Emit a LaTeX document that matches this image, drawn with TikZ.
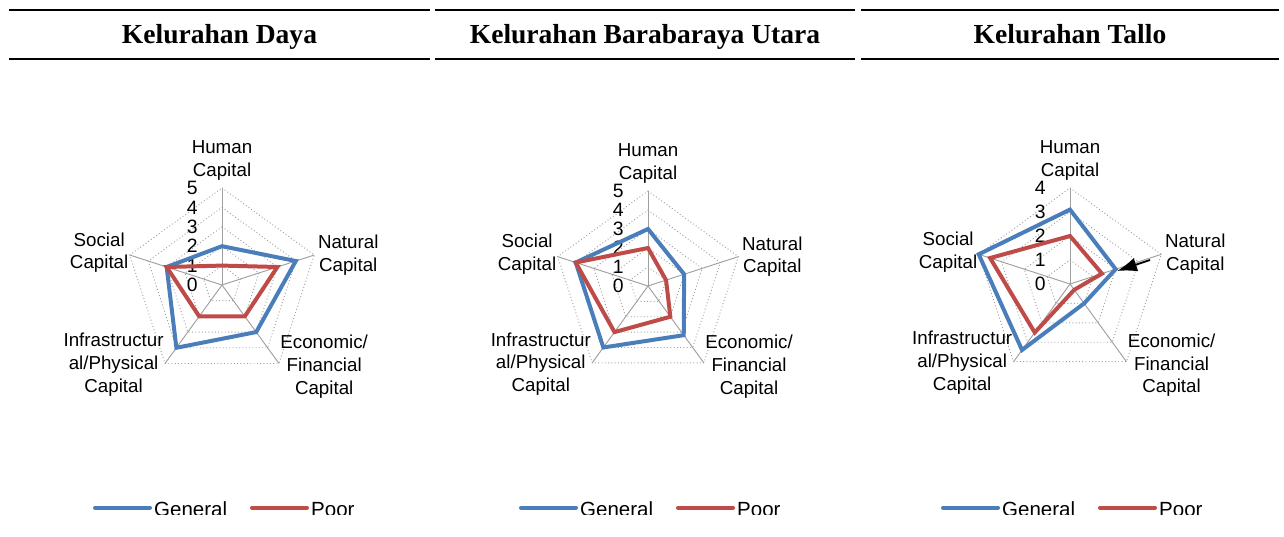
\documentclass[tikz,border=0pt]{standalone}
\usepackage{fontspec}
\setmainfont{Liberation Serif}
\newfontfamily\chartfont{Liberation Sans}
\usetikzlibrary{math,positioning,arrows.meta}

\definecolor{genblue}{HTML}{4A7EBB}
\definecolor{poorred}{HTML}{BE4B48}

\begin{document}
\begin{tikzpicture}[x=0.03cm,y=0.03cm,
    ring/.style={gray!75,dotted,line width=0.8pt},
    spoke/.style={gray!75,line width=0.8pt},
    general/.style={genblue,line width=3.4pt},
    poor/.style={poorred,line width=3.4pt},
    axlabel/.style={font=\chartfont\fontsize{16}{19.5}\selectfont,align=center,inner sep=1pt},
    ticklabel/.style={font=\chartfont\fontsize{16.5}{16.5}\selectfont,inner sep=1pt,anchor=east},
    legtext/.style={font=\chartfont\fontsize{17.5}{17.5}\selectfont,inner sep=0pt,anchor=base west},
    heading/.style={font=\bfseries\fontsize{23.5}{23.5}\selectfont,inner sep=0pt,anchor=base}]
  \tikzmath{
    real \ytop, \ybot;
    \ytop=527;
    \ybot=478;
  }
  \useasboundingbox (0,0) rectangle (1284,537);

  \foreach \c/\xa/\xb/\title in {1/9/430/Kelurahan Daya,2/435/855/Kelurahan Barabaraya Utara,3/861/1279/Kelurahan Tallo}{
    \coordinate (tl\c) at (\xa,\ytop);
    \coordinate (tr\c) at (\xb,\ytop);
    \coordinate (bl\c) at (\xa,\ybot);
    \coordinate (br\c) at (\xb,\ybot);
    \draw[line width=2.2pt] (tl\c) -- (tr\c);
    \draw[line width=2.2pt] (bl\c) -- (br\c);
    \node[heading] (head\c) at ({(\xa+\xb)/2},493.5) {\title};
  }

  \foreach \c/\cx/\cy/\rad/\top/\gen/\pr in {
      1/222/252/97/5/{2,4,3,4,3}/{1,3,2,2,3},
      2/648/251/95/5/{3,2,3.2,4,4}/{2,1,2,3,4},
      3/1070/253/96/4/{3.1,2,1,3.4,4}/{2,1.4,0.3,2.5,3.5}}{
    \begin{scope}[shift={(\cx,\cy)}]
      \coordinate (o\c) at (0,0);
      \foreach \k in {1,...,\top}
        \draw[ring] (90:{\k*\rad/\top}) -- (18:{\k*\rad/\top}) -- (-54:{\k*\rad/\top})
          -- (-126:{\k*\rad/\top}) -- (162:{\k*\rad/\top}) -- cycle;
      \foreach \i in {1,...,5}{
        \coordinate (ax\c-\i) at ({162-72*\i}:\rad);
        \draw[spoke] (o\c) -- (ax\c-\i);
      }
      \foreach \k in {0,...,\top}
        \node[ticklabel] (t\c-\k) at (-23,{\k*\rad/\top}) {\k};

      \node[axlabel,above=5pt of ax\c-1] (hum\c) {Human\\Capital};
      \node[axlabel,anchor=west] (nat\c) at ([xshift=2pt]ax\c-2) {Natural\\Capital};
      \node[axlabel,anchor=west] (eco\c) at ([yshift=-3pt]ax\c-3) {Economic/\\Financial\\Capital};
      \node[axlabel,anchor=east] (inf\c) at ([yshift=-1pt]ax\c-4) {Infrastructur\\al/Physical\\Capital};
      \node[axlabel,anchor=east] (soc\c) at ([yshift=2pt]ax\c-5) {Social\\Capital};

      \foreach \v [count=\i] in \gen
        \coordinate (g\c-\i) at ({162-72*\i}:{\v*\rad/\top});
      \foreach \v [count=\i] in \pr
        \coordinate (p\c-\i) at ({162-72*\i}:{\v*\rad/\top});
      \draw[general] (g\c-1) -- (g\c-2) -- (g\c-3) -- (g\c-4) -- (g\c-5) -- cycle;
      \draw[poor] (p\c-1) -- (p\c-2) -- (p\c-3) -- (p\c-4) -- (p\c-5) -- cycle;
    \end{scope}

    \begin{scope}
      \clip (0,22.5) rectangle (1284,60);
      \coordinate (ga\c) at ({\cx-127},29.3);
      \coordinate (gb\c) at ({\cx-72},29.3);
      \coordinate (pa\c) at ({\cx+30},29.3);
      \coordinate (pb\c) at ({\cx+85},29.3);
      \draw[general,line cap=round] (ga\c) -- (gb\c);
      \draw[poor,line cap=round] (pa\c) -- (pb\c);
      \node[legtext] (lgen\c) at ({\cx-68},20.5) {General};
      \node[legtext] (lpoor\c) at ({\cx+89},20.5) {Poor};
    \end{scope}
  }

  \coordinate (arrtail) at (1150,277);
  \coordinate (arrtip) at (1117,266);
  \draw[-{Latex[length=17pt,width=12pt]},line width=1.6pt] (arrtail) -- (arrtip);
\end{tikzpicture}
\end{document}
